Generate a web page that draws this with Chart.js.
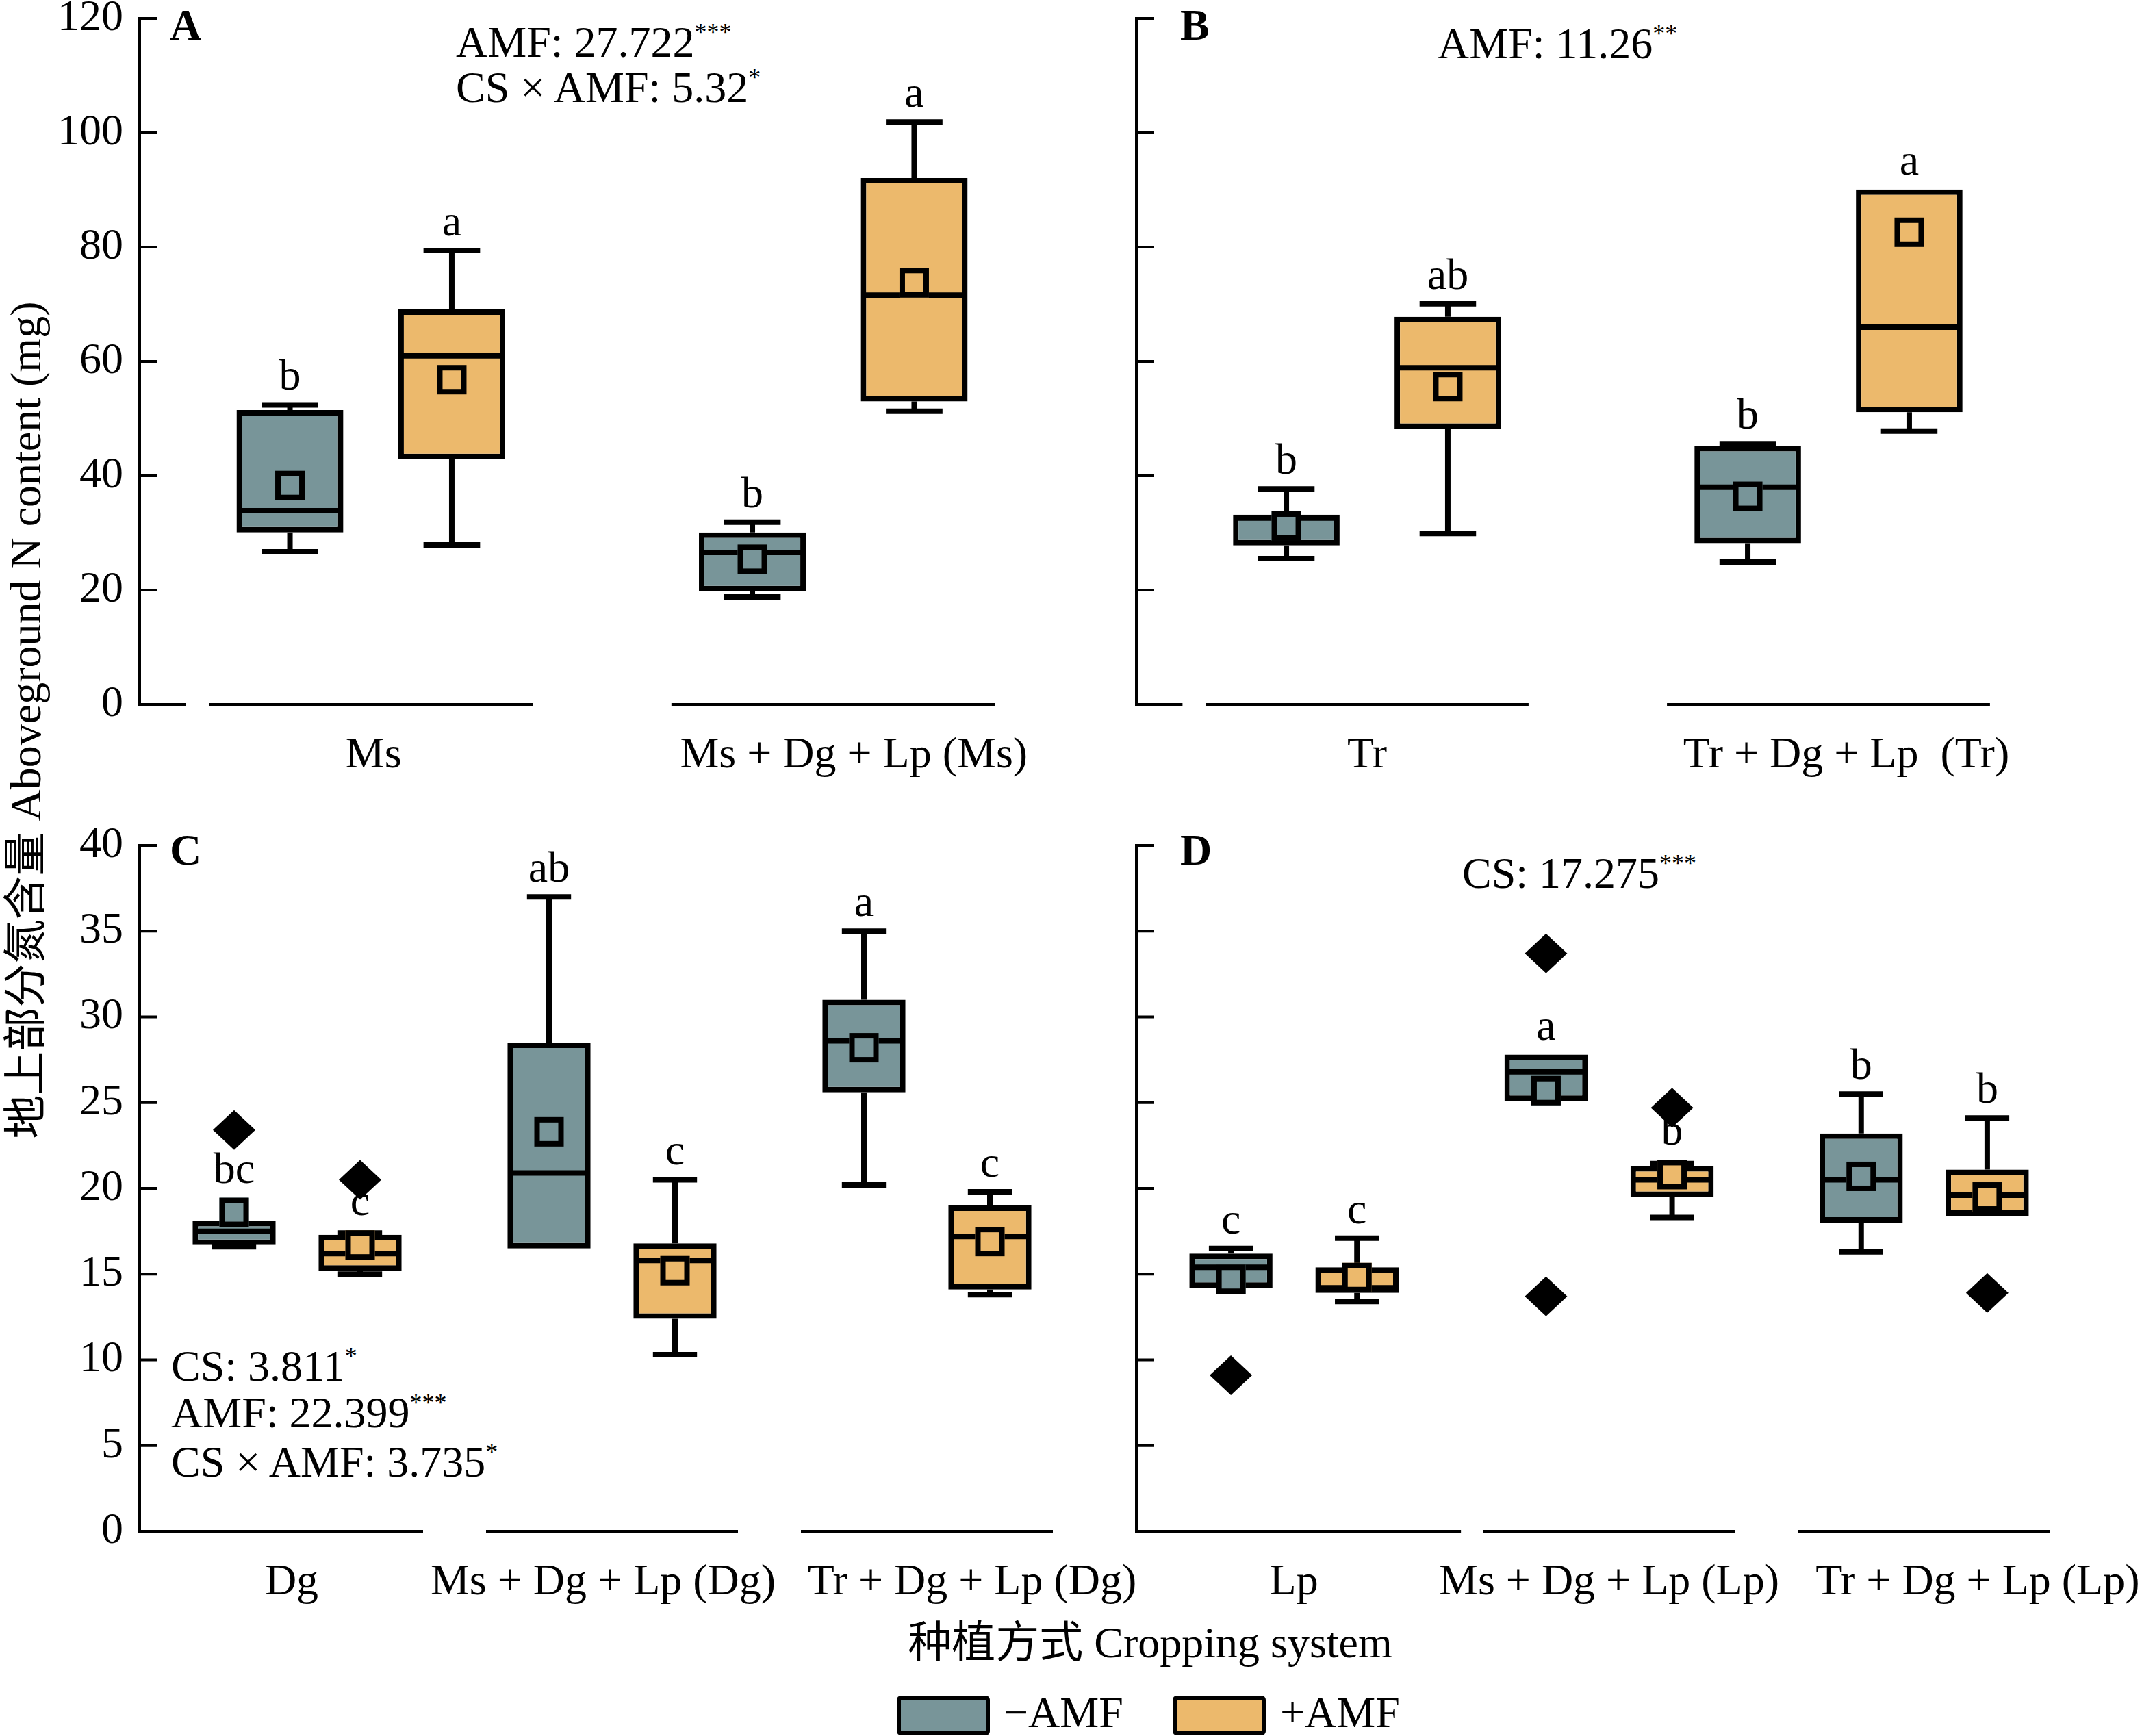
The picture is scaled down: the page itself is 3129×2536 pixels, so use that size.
<!DOCTYPE html>
<html lang="zh-CN">
<head>
<meta charset="UTF-8">
<title>地上部分氮含量 Aboveground N content</title>
<script src="https://cdn.jsdelivr.net/npm/chart.js"></script>
<style>
  body { margin: 0; background: #fff; }
  #page { position: relative; width: 3129px; height: 2536px; overflow: hidden; background: #fff;
          font-family: 'Liberation Serif', 'Noto Sans CJK SC', serif; color: #000; }
  canvas { position: absolute; }
  .t { position: absolute; font-size: 64px; line-height: 64px; white-space: nowrap; }
  .t sup { font-size: 36px; vertical-align: 24px; line-height: 0; }
  .pl { font-weight: bold; }
  .key { position: absolute; width: 124px; height: 46px; border: 6px solid #000; border-radius: 6px; }
</style>
</head>
<body>
<div id="page">
  <div class="t pl" style="left:248px; top:5px;">A</div>
  <div class="t" style="left:666px; top:30px;">AMF: 27.722<sup>***</sup></div>
  <div class="t" style="left:666px; top:96px;">CS × AMF: 5.32<sup>*</sup></div>

  <div class="t pl" style="left:1724px; top:5px;">B</div>
  <div class="t" style="left:2100px; top:32px;">AMF: 11.26<sup>**</sup></div>

  <div class="t pl" style="left:248px; top:1210px;">C</div>
  <div class="t" style="left:250px; top:1964px;">CS: 3.811<sup>*</sup></div>
  <div class="t" style="left:250px; top:2032px;">AMF: 22.399<sup>***</sup></div>
  <div class="t" style="left:250px; top:2104px;">CS × AMF: 3.735<sup>*</sup></div>

  <div class="t pl" style="left:1724px; top:1210px;">D</div>
  <div class="t" style="left:2136px; top:1244px;">CS: 17.275<sup>***</sup></div>

  <div class="t" style="left:38px; top:1052px; transform: translate(-50%, -50%) rotate(-90deg);">地上部分氮含量 Aboveground N content (mg)</div>
  <div class="t" style="left:1680px; top:2368px; transform: translateX(-50%);">种植方式 Cropping system</div>

  <div class="key" style="left:1310px; top:2477px; background:#789599;"></div>
  <div class="t" style="left:1466px; top:2470px;">−AMF</div>
  <div class="key" style="left:1713px; top:2477px; background:#ecb96c;"></div>
  <div class="t" style="left:1870px; top:2470px;">+AMF</div>
</div>

<script>
  // ---- data ----
  // each box: [lower whisker, Q1, median, Q3, upper whisker]
  const ticksAB = [0, 20, 40, 60, 80, 100, 120];
  const ticksCD = [0, 5, 10, 15, 20, 25, 30, 35, 40];

  const catsA = ['Ms', 'Ms + Dg + Lp (Ms)'];
  const boxANeg = [[26.7, 30.1, 33.9, 51.5, 52.4], [18.8, 19.8, 26.6, 30.1, 31.9]];
  const boxAPos = [[27.9, 42.9, 61.0, 69.1, 79.4], [51.3, 53.0, 71.6, 92.1, 101.9]];
  const meanANeg = [38.3, 25.4];
  const meanAPos = [56.8, 73.8];
  const outANeg = [[], []];
  const outAPos = [[], []];
  const letANeg = ['b', 'b'];
  const letAPos = ['a', 'a'];

  const catsB = ['Tr', 'Tr + Dg + Lp  (Tr)'];
  const boxBNeg = [[25.5, 27.8, 32.6, 33.2, 37.7], [24.9, 28.2, 38.0, 45.2, 45.6]];
  const boxBPos = [[29.9, 48.2, 58.9, 67.8, 70.1], [47.8, 51.1, 66.0, 90.1, 90.1]];
  const meanBNeg = [31.2, 36.4];
  const meanBPos = [55.6, 82.6];
  const outBNeg = [[], []];
  const outBPos = [[], []];
  const letBNeg = ['b', 'b'];
  const letBPos = ['ab', 'a'];

  const catsC = ['Dg', 'Ms + Dg + Lp (Dg)', 'Tr + Dg + Lp (Dg)'];
  const boxCNeg = [[16.6, 16.7, 17.5, 18.1, 18.1], [16.5, 16.5, 20.9, 28.5, 37.0], [20.2, 25.6, 28.6, 31.0, 35.0]];
  const boxCPos = [[15.0, 15.2, 16.2, 17.3, 17.4], [10.3, 12.4, 15.8, 16.8, 20.5], [13.8, 14.1, 17.2, 19.0, 19.8]];
  const meanCNeg = [18.6, 23.3, 28.2];
  const meanCPos = [16.7, 15.2, 16.9];
  const outCNeg = [[23.4], [], []];
  const outCPos = [[20.5], [], []];
  const letCNeg = ['bc', 'ab', 'a'];
  const letCPos = ['c', 'c', 'c'];

  const catsD = ['Lp', 'Ms + Dg + Lp (Lp)', 'Tr + Dg + Lp (Lp)'];
  const boxDNeg = [[14.2, 14.2, 15.4, 16.2, 16.5], [25.1, 25.1, 26.8, 27.8, 27.8], [16.3, 18.0, 20.5, 23.2, 25.5]];
  const boxDPos = [[13.4, 13.9, 14.2, 15.4, 17.1], [18.3, 19.5, 20.5, 21.3, 21.45], [18.4, 18.4, 19.6, 21.1, 24.1]];
  const meanDNeg = [14.7, 25.7, 20.7];
  const meanDPos = [14.8, 20.8, 19.5];
  const outDNeg = [[9.1], [33.7, 13.7], []];
  const outDPos = [[], [24.7], [13.9]];
  const letDNeg = ['c', 'a', 'b'];
  const letDPos = ['c', 'b', 'b'];

  const GRAY = '#789599';
  const ORANGE = '#ecb96c';
  const FONT = '"Liberation Serif", "Noto Sans CJK SC", serif';

  // whiskers, medians, means, outliers, letters, inward ticks, split baseline
  const boxPlugin = {
    id: 'boxes',
    afterDatasetsDraw(chart) {
      const ctx = chart.ctx, ys = chart.scales.y;
      ctx.save();
      ctx.strokeStyle = '#000';
      chart.data.datasets.forEach((ds, i) => {
        chart.getDatasetMeta(i).data.forEach((bar, j) => {
          const [lo, q1, med, q3, hi] = ds.stats[j];
          const x = bar.x, w = bar.width, cap = w * 0.53 / 2;
          const py = v => ys.getPixelForValue(v);
          ctx.lineWidth = 8;
          ctx.beginPath();
          if (hi > q3) {
            ctx.moveTo(x, py(q3)); ctx.lineTo(x, py(hi));
            ctx.moveTo(x - cap, py(hi)); ctx.lineTo(x + cap, py(hi));
          }
          if (lo < q1) {
            ctx.moveTo(x, py(q1)); ctx.lineTo(x, py(lo));
            ctx.moveTo(x - cap, py(lo)); ctx.lineTo(x + cap, py(lo));
          }
          ctx.moveTo(x - w / 2 + 4, py(med)); ctx.lineTo(x + w / 2 - 4, py(med));
          ctx.stroke();

          const pm = py(ds.means[j]), s = 43;
          ctx.fillStyle = ds.backgroundColor;
          ctx.fillRect(x - s / 2, pm - s / 2, s, s);
          ctx.lineWidth = 8;
          ctx.strokeRect(x - s / 2 + 4, pm - s / 2 + 4, s - 8, s - 8);

          ctx.fillStyle = '#000';
          ds.outliers[j].forEach(v => {
            const po = py(v);
            ctx.beginPath();
            ctx.moveTo(x, po - 29); ctx.lineTo(x + 31, po);
            ctx.lineTo(x, po + 29); ctx.lineTo(x - 31, po);
            ctx.closePath(); ctx.fill();
          });

          const top = Math.min(py(hi), pm - s / 2);
          ctx.font = '64px ' + FONT;
          ctx.textAlign = 'center';
          ctx.textBaseline = 'alphabetic';
          ctx.fillText(ds.letters[j], x, top - 22);
        });
      });
      ctx.restore();
    },
    afterDraw(chart) {
      const ctx = chart.ctx, a = chart.chartArea;
      const ys = chart.scales.y, xs = chart.scales.x;
      const o = chart.options.plugins.boxes;
      const n = chart.data.labels.length, cw = xs.width / n;
      ctx.save();
      ctx.strokeStyle = '#000';
      ctx.lineWidth = 4;
      ctx.beginPath();
      ys.ticks.forEach(t => {
        if (t.value === ys.min) return;
        const p = ys.getPixelForValue(t.value);
        ctx.moveTo(a.left, p); ctx.lineTo(a.left + 26, p);
      });
      const by = a.bottom;
      if (o.stub) { ctx.moveTo(a.left - 2, by); ctx.lineTo(a.left + cw * o.stub, by); }
      chart.data.labels.forEach((lab, j) => {
        const c0 = xs.getPixelForTick(j) - cw / 2;
        const st = (j === 0 && o.fromAxis) ? 0 : o.segStart;
        const en = (j === 0 && o.firstEnd) ? o.firstEnd : o.segEnd;
        ctx.moveTo(c0 + cw * st - (st === 0 ? 2 : 0), by); ctx.lineTo(c0 + cw * en, by);
      });
      ctx.stroke();
      ctx.fillStyle = '#000';
      ctx.font = '64px ' + FONT;
      ctx.textAlign = 'center';
      ctx.textBaseline = 'alphabetic';
      chart.data.labels.forEach((lab, j) => {
        ctx.fillText(lab, xs.getPixelForTick(j) + o.labelShift[j], by + 92);
      });
      ctx.restore();
    }
  };

  function mkSet(label, color, stats, means, outliers, letters, p) {
    return {
      label,
      data: stats.map(s => [s[1], s[3]]),
      stats, means, outliers, letters,
      backgroundColor: color,
      borderColor: '#000',
      borderWidth: 8,
      borderSkipped: false,
      categoryPercentage: p.catPct,
      barPercentage: p.barPct
    };
  }

  function makePanel(p) {
    const offL = 180, offT = 80, offR = 120, offB = 160;
    const W = p.area.right - p.area.left + offL + offR;
    const H = p.area.bottom - p.area.top + offT + offB;
    const cv = document.createElement('canvas');
    cv.width = W; cv.height = H;
    cv.style.left = (p.area.left - offL) + 'px';
    cv.style.top = (p.area.top - offT) + 'px';
    cv.style.width = W + 'px';
    cv.style.height = H + 'px';
    document.getElementById('page').appendChild(cv);

    new Chart(cv, {
      type: 'bar',
      data: {
        labels: p.cats,
        datasets: [
          mkSet('−AMF', GRAY, p.neg, p.meanNeg, p.outNeg, p.letNeg, p),
          mkSet('+AMF', ORANGE, p.pos, p.meanPos, p.outPos, p.letPos, p)
        ]
      },
      options: {
        responsive: false,
        animation: false,
        devicePixelRatio: 1,
        layout: { padding: { left: offL - 140, top: offT, right: offR, bottom: offB - 100 } },
        plugins: {
          legend: { display: false },
          tooltip: { enabled: false },
          boxes: p.seg
        },
        scales: {
          x: {
            type: 'category',
            offset: true,
            grid: { display: false, drawTicks: false },
            border: { display: false },
            ticks: { display: false },
            afterFit: s => { s.height = 100; }
          },
          y: {
            min: p.ticks[0],
            max: p.ticks[p.ticks.length - 1],
            afterBuildTicks: s => { s.ticks = p.ticks.map(v => ({ value: v })); },
            grid: { display: false, drawTicks: false },
            border: { display: true, color: '#000', width: 4 },
            ticks: { display: p.yLabels, padding: 24, color: '#000', font: { family: FONT, size: 64 } },
            afterFit: s => { s.width = 140; }
          }
        }
      },
      plugins: [boxPlugin]
    });
  }

  const segTop = { stub: 0.1, segStart: 0.15, segEnd: 0.85 };

  makePanel({
    cats: catsA, neg: boxANeg, pos: boxAPos, meanNeg: meanANeg, meanPos: meanAPos,
    outNeg: outANeg, outPos: outAPos, letNeg: letANeg, letPos: letAPos,
    ticks: ticksAB, yLabels: true, catPct: 0.70, barPct: 0.66,
    area: { left: 204, top: 27, right: 1555, bottom: 1029 },
    seg: Object.assign({ labelShift: [4, 30] }, segTop)
  });
  makePanel({
    cats: catsB, neg: boxBNeg, pos: boxBPos, meanNeg: meanBNeg, meanPos: meanBPos,
    outNeg: outBNeg, outPos: outBPos, letNeg: letBNeg, letPos: letBPos,
    ticks: ticksAB, yLabels: false, catPct: 0.70, barPct: 0.66,
    area: { left: 1660, top: 27, right: 3008, bottom: 1029 },
    seg: Object.assign({ labelShift: [0, 26] }, segTop)
  });
  makePanel({
    cats: catsC, neg: boxCNeg, pos: boxCPos, meanNeg: meanCNeg, meanPos: meanCPos,
    outNeg: outCNeg, outPos: outCPos, letNeg: letCNeg, letPos: letCPos,
    ticks: ticksCD, yLabels: true, catPct: 0.80, barPct: 0.66,
    area: { left: 204, top: 1235, right: 1584, bottom: 2237 },
    seg: { fromAxis: true, segStart: 0.1, segEnd: 0.9, firstEnd: 0.9, labelShift: [-8, -13, 66] }
  });
  makePanel({
    cats: catsD, neg: boxDNeg, pos: boxDPos, meanNeg: meanDNeg, meanPos: meanDPos,
    outNeg: outDNeg, outPos: outDPos, letNeg: letDNeg, letPos: letDPos,
    ticks: ticksCD, yLabels: false, catPct: 0.80, barPct: 0.66,
    area: { left: 1660, top: 1235, right: 3041, bottom: 2237 },
    seg: { fromAxis: true, segStart: 0.1, segEnd: 0.9, firstEnd: 1.03, labelShift: [0, 0, 78] }
  });
</script>
</body>
</html>
